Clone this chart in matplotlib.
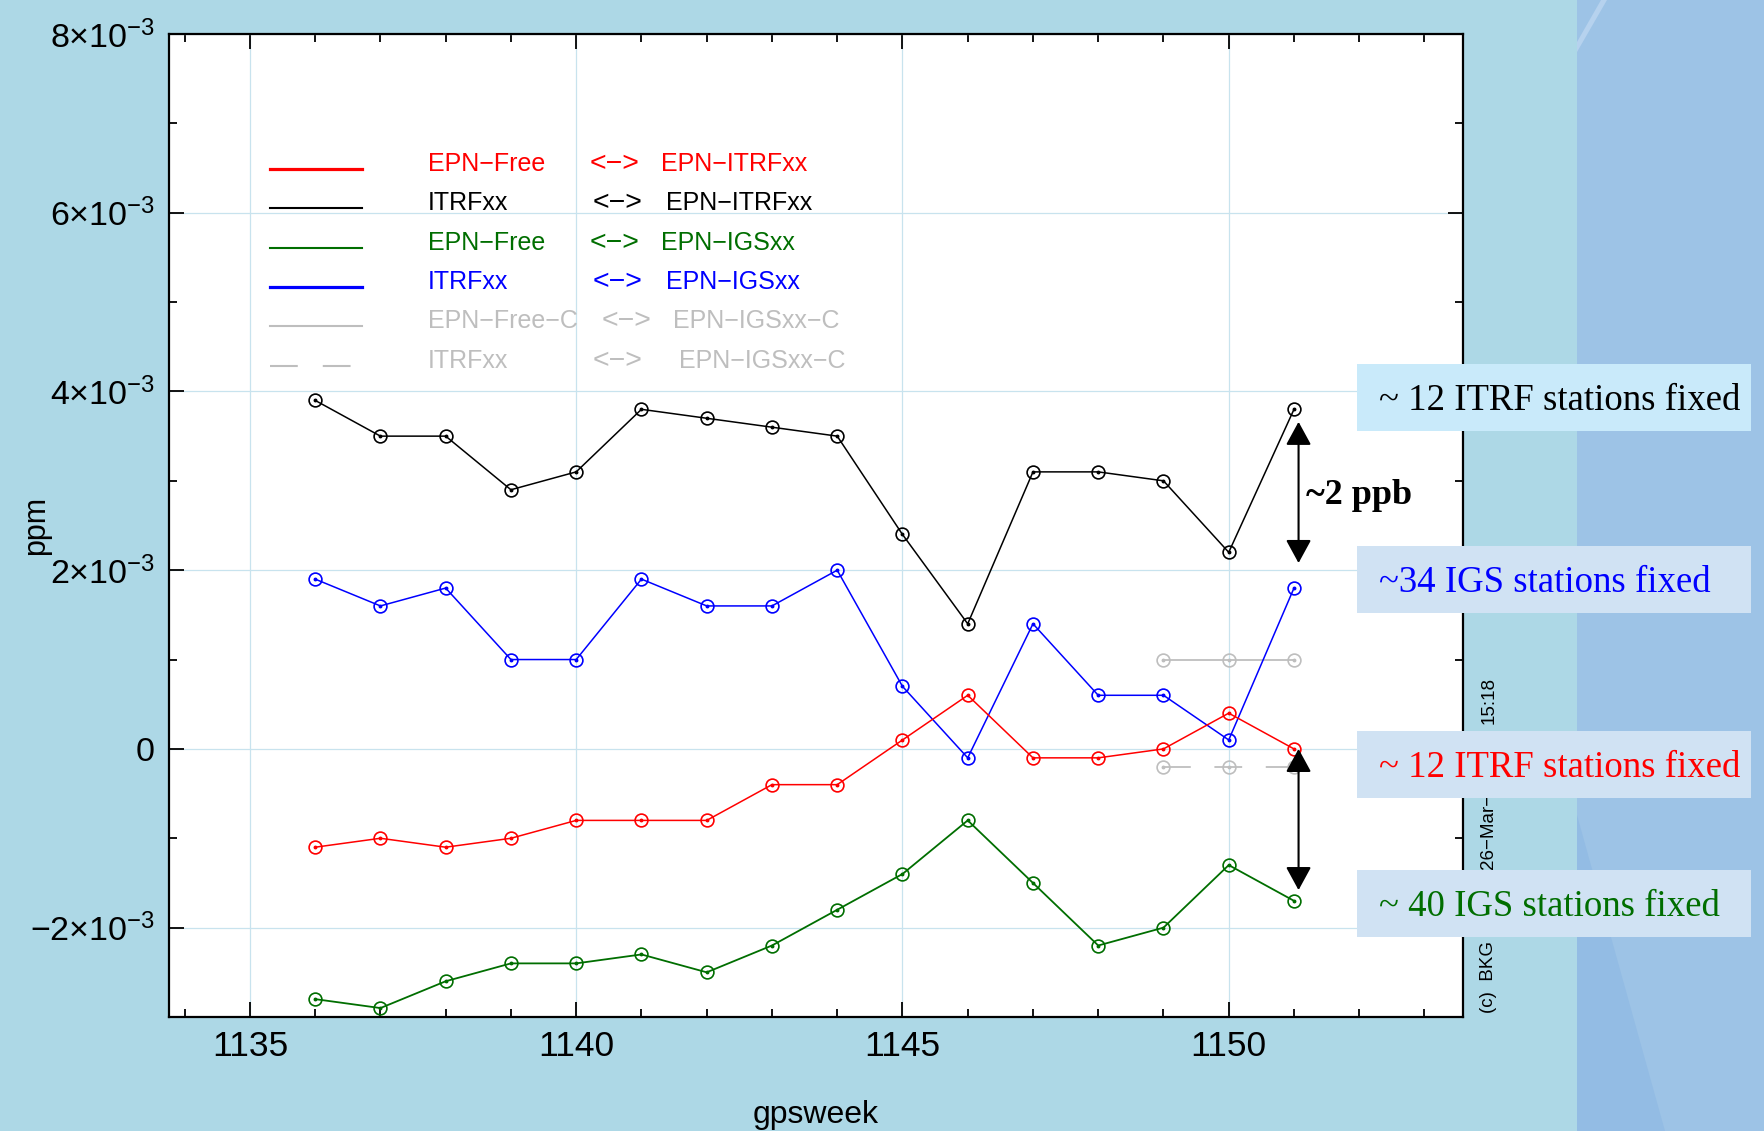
import matplotlib
matplotlib.use('Agg')
import matplotlib.pyplot as plt
from matplotlib.patches import Rectangle, Polygon
from matplotlib.ticker import FixedLocator, FixedFormatter, MultipleLocator

plt.rcParams['font.family'] = ['Liberation Sans', 'DejaVu Sans']
plt.rcParams['mathtext.fontset'] = 'custom'
plt.rcParams['mathtext.rm'] = 'Liberation Sans'
plt.rcParams['mathtext.it'] = 'Liberation Sans:italic'
plt.rcParams['mathtext.bf'] = 'Liberation Sans:bold'
plt.rcParams['lines.scale_dashes'] = False

# ---------------- data ----------------
weeks = [1136, 1137, 1138, 1139, 1140, 1141, 1142, 1143,
         1144, 1145, 1146, 1147, 1148, 1149, 1150, 1151]
itrf_vs_epn_itrf = [3.9e-3, 3.5e-3, 3.5e-3, 2.9e-3, 3.1e-3, 3.8e-3, 3.7e-3, 3.6e-3,
                    3.5e-3, 2.4e-3, 1.4e-3, 3.1e-3, 3.1e-3, 3.0e-3, 2.2e-3, 3.8e-3]
itrf_vs_epn_igs = [1.9e-3, 1.6e-3, 1.8e-3, 1.0e-3, 1.0e-3, 1.9e-3, 1.6e-3, 1.6e-3,
                   2.0e-3, 0.7e-3, -0.1e-3, 1.4e-3, 0.6e-3, 0.6e-3, 0.1e-3, 1.8e-3]
free_vs_epn_itrf = [-1.1e-3, -1.0e-3, -1.1e-3, -1.0e-3, -0.8e-3, -0.8e-3, -0.8e-3, -0.4e-3,
                    -0.4e-3, 0.1e-3, 0.6e-3, -0.1e-3, -0.1e-3, 0.0e-3, 0.4e-3, 0.0e-3]
free_vs_epn_igs = [-2.8e-3, -2.9e-3, -2.6e-3, -2.4e-3, -2.4e-3, -2.3e-3, -2.5e-3, -2.2e-3,
                   -1.8e-3, -1.4e-3, -0.8e-3, -1.5e-3, -2.2e-3, -2.0e-3, -1.3e-3, -1.7e-3]
c_weeks = [1149, 1150, 1151]
free_c_vs_igs_c = [1.0e-3, 1.0e-3, 1.0e-3]
itrf_vs_igs_c = [-0.2e-3, -0.2e-3, -0.2e-3]

ytick_values = [-2e-3, 0.0, 2e-3, 4e-3, 6e-3, 8e-3]
ytick_labels = [r'$-2{\times}10^{-3}$', '0', r'$2{\times}10^{-3}$',
                r'$4{\times}10^{-3}$', r'$6{\times}10^{-3}$', r'$8{\times}10^{-3}$']
xtick_values = [1135, 1140, 1145, 1150]
xtick_labels = ['1135', '1140', '1145', '1150']

legend_rows = [
    ('EPN\u2212Free', '<\u2212>', 'EPN\u2212ITRFxx', 'red'),
    ('ITRFxx', '<\u2212>', 'EPN\u2212ITRFxx', 'black'),
    ('EPN\u2212Free', '<\u2212>', 'EPN\u2212IGSxx', '#006E00'),
    ('ITRFxx', '<\u2212>', 'EPN\u2212IGSxx', 'blue'),
    ('EPN\u2212Free\u2212C', '<\u2212>', 'EPN\u2212IGSxx\u2212C', '#BEBEBE'),
    ('ITRFxx', '<\u2212>', 'EPN\u2212IGSxx\u2212C', '#BEBEBE'),
]

box_texts = ['~ 12 ITRF stations fixed', '~34 IGS stations fixed',
             '~ 12 ITRF stations fixed', '~ 40 IGS stations fixed']
box_colors = ['black', 'blue', 'red', '#006E00']

# annotation arrows (week, y_top, y_bottom)
arrow_x = 1151.07
arrow_upper = (3.66e-3, 2.08e-3)
arrow_lower = (0.0, -1.58e-3)

# ---------------- figure ----------------
W, H = 1765, 1131
fig = plt.figure(figsize=(W / 100, H / 100), dpi=100, facecolor='#ADD8E6')

def fx(px):
    return px / W

def fy(py):
    return 1 - py / H

# right decorative band
fig.add_artist(Rectangle((fx(1577), 0), 1 - fx(1577), 1, transform=fig.transFigure,
                         facecolor='#9DC3E6', edgecolor='none', zorder=-10))
fig.add_artist(Polygon([(fx(1577), fy(815)), (fx(1665), fy(1131)), (fx(1577), fy(1131))],
                       closed=True, transform=fig.transFigure,
                       facecolor='#93BCE4', edgecolor='none', zorder=-9))
fig.add_artist(Polygon([(fx(1577), fy(42)), (fx(1601), fy(0)), (fx(1607), fy(0)), (fx(1577), fy(52))],
                       closed=True, transform=fig.transFigure,
                       facecolor='#B6D2EE', edgecolor='none', zorder=-9))

L, T, R, B = 169, 34, 1463, 1017
ax = fig.add_axes([fx(L), fy(B), (R - L) / W, (B - T) / H])
ax.set_facecolor('white')
ax.set_xlim(1133.76, 1153.59)
ax.set_ylim(-3e-3, 8e-3)

ax.xaxis.set_major_locator(FixedLocator(xtick_values))
ax.xaxis.set_major_formatter(FixedFormatter(xtick_labels))
ax.xaxis.set_minor_locator(MultipleLocator(1))
ax.yaxis.set_major_locator(FixedLocator(ytick_values))
ax.yaxis.set_major_formatter(FixedFormatter(ytick_labels))
ax.yaxis.set_minor_locator(MultipleLocator(1e-3))

ax.tick_params(which='both', direction='in', top=True, right=True, width=1.3, color='black')
ax.tick_params(which='major', length=11)
ax.tick_params(which='minor', length=6)
ax.tick_params(axis='x', which='major', labelsize=25.5, pad=9)
ax.tick_params(axis='y', which='major', labelsize=24.5, pad=10)
for s in ax.spines.values():
    s.set_linewidth(1.6)

ax.grid(True, which='major', color='#C8E3EE', lw=0.9, zorder=0)
ax.set_axisbelow(True)

ax.set_xlabel('gpsweek', fontsize=23)
ax.xaxis.set_label_coords(0.5, -0.084)
ax.set_ylabel('ppm', fontsize=22)
ax.yaxis.set_label_coords((51 - L) / (R - L), 0.5)

def series(xs, ys, color, lw=1.1, ls='-'):
    ax.plot(xs, ys, color=color, lw=lw, ls=ls, marker='o', ms=9.2, mfc='none',
            mec=color, mew=1.2, zorder=3)
    ax.plot(xs, ys, ls='none', marker='o', ms=1.8, color=color, zorder=4)

series(c_weeks, free_c_vs_igs_c, '#BEBEBE', lw=1.3)
series(c_weeks, itrf_vs_igs_c, '#BEBEBE', lw=1.3, ls=(0, (20, 17)))
series(weeks, itrf_vs_epn_itrf, 'black')
series(weeks, itrf_vs_epn_igs, 'blue')
series(weeks, free_vs_epn_itrf, 'red')
series(weeks, free_vs_epn_igs, '#006E00', lw=1.3)

# legend drawn manually
def axx(px):
    return (px - L) / (R - L)

def axy(py):
    return (B - py) / (B - T)

row_y = [171, 210, 250, 289, 328, 368]
line_y = [169, 208, 248, 287, 326, 366]
line_w = [2.3, 1.5, 1.5, 2.3, 1.5, 1.5]
line_ls = ['-', '-', '-', '-', '-', (0, (20, 18))]
arrow_px = [590, 593, 590, 593, 602, 593]
target_px = [661, 666, 661, 666, 673, 679]
for i, (lab, arr, tgt, col) in enumerate(legend_rows):
    y = axy(row_y[i])
    ly = axy(line_y[i])
    ax.plot([axx(270), axx(362)], [ly, ly], transform=ax.transAxes, color=col,
            lw=line_w[i], ls=line_ls[i], clip_on=False)
    ax.text(axx(428), y, lab, transform=ax.transAxes, color=col, fontsize=18, va='baseline')
    ax.text(axx(arrow_px[i]), y, arr, transform=ax.transAxes, color=col, fontsize=20.5,
            va='baseline')
    ax.text(axx(target_px[i]), y, tgt, transform=ax.transAxes, color=col, fontsize=18, va='baseline')

# arrows
arrow_style = dict(arrowstyle='<|-|>,head_length=0.55,head_width=0.3', mutation_scale=26,
                   color='black', lw=1.5, shrinkA=0, shrinkB=0)
ax.annotate('', xy=(arrow_x, arrow_upper[1]), xytext=(arrow_x, arrow_upper[0]),
            arrowprops=arrow_style, annotation_clip=False, zorder=5)
ax.annotate('', xy=(arrow_x, arrow_lower[1]), xytext=(arrow_x, arrow_lower[0]),
            arrowprops=arrow_style, annotation_clip=False, zorder=5)
ax.text(1151.18, 2.84e-3, '~2 ppb', fontsize=26, fontweight='bold',
        family=['Liberation Serif', 'DejaVu Serif'], va='center', ha='left', zorder=5)

# copyright text (the parts visible between the boxes)
cr_kw = dict(rotation=90, ha='center', va='bottom', fontsize=13.5, color='black', zorder=1.5)
fig.text(fx(1489), fy(1013), '(c)  BKG', **cr_kw)
fig.text(fx(1489), fy(869), '26\u2212Mar\u2212', **cr_kw)
fig.text(fx(1489), fy(724), '15:18', **cr_kw)

# annotation boxes
box_tops = [364, 546, 731, 870]
box_fill = ['#C9EAFA', '#D0E2F3', '#D0E2F3', '#D0E2F3']
for top, fill, txt, col in zip(box_tops, box_fill, box_texts, box_colors):
    fig.add_artist(Rectangle((fx(1357), fy(top + 67)), (1751 - 1357) / W, 67 / H,
                             transform=fig.transFigure, facecolor=fill, edgecolor='none', zorder=2))
    fig.text(fx(1379), fy(top + 37), txt, color=col, fontsize=26.5,
             family=['Liberation Serif', 'DejaVu Serif'], va='center', ha='left', zorder=3)

fig.savefig('out.png', dpi=100, facecolor=fig.get_facecolor())
